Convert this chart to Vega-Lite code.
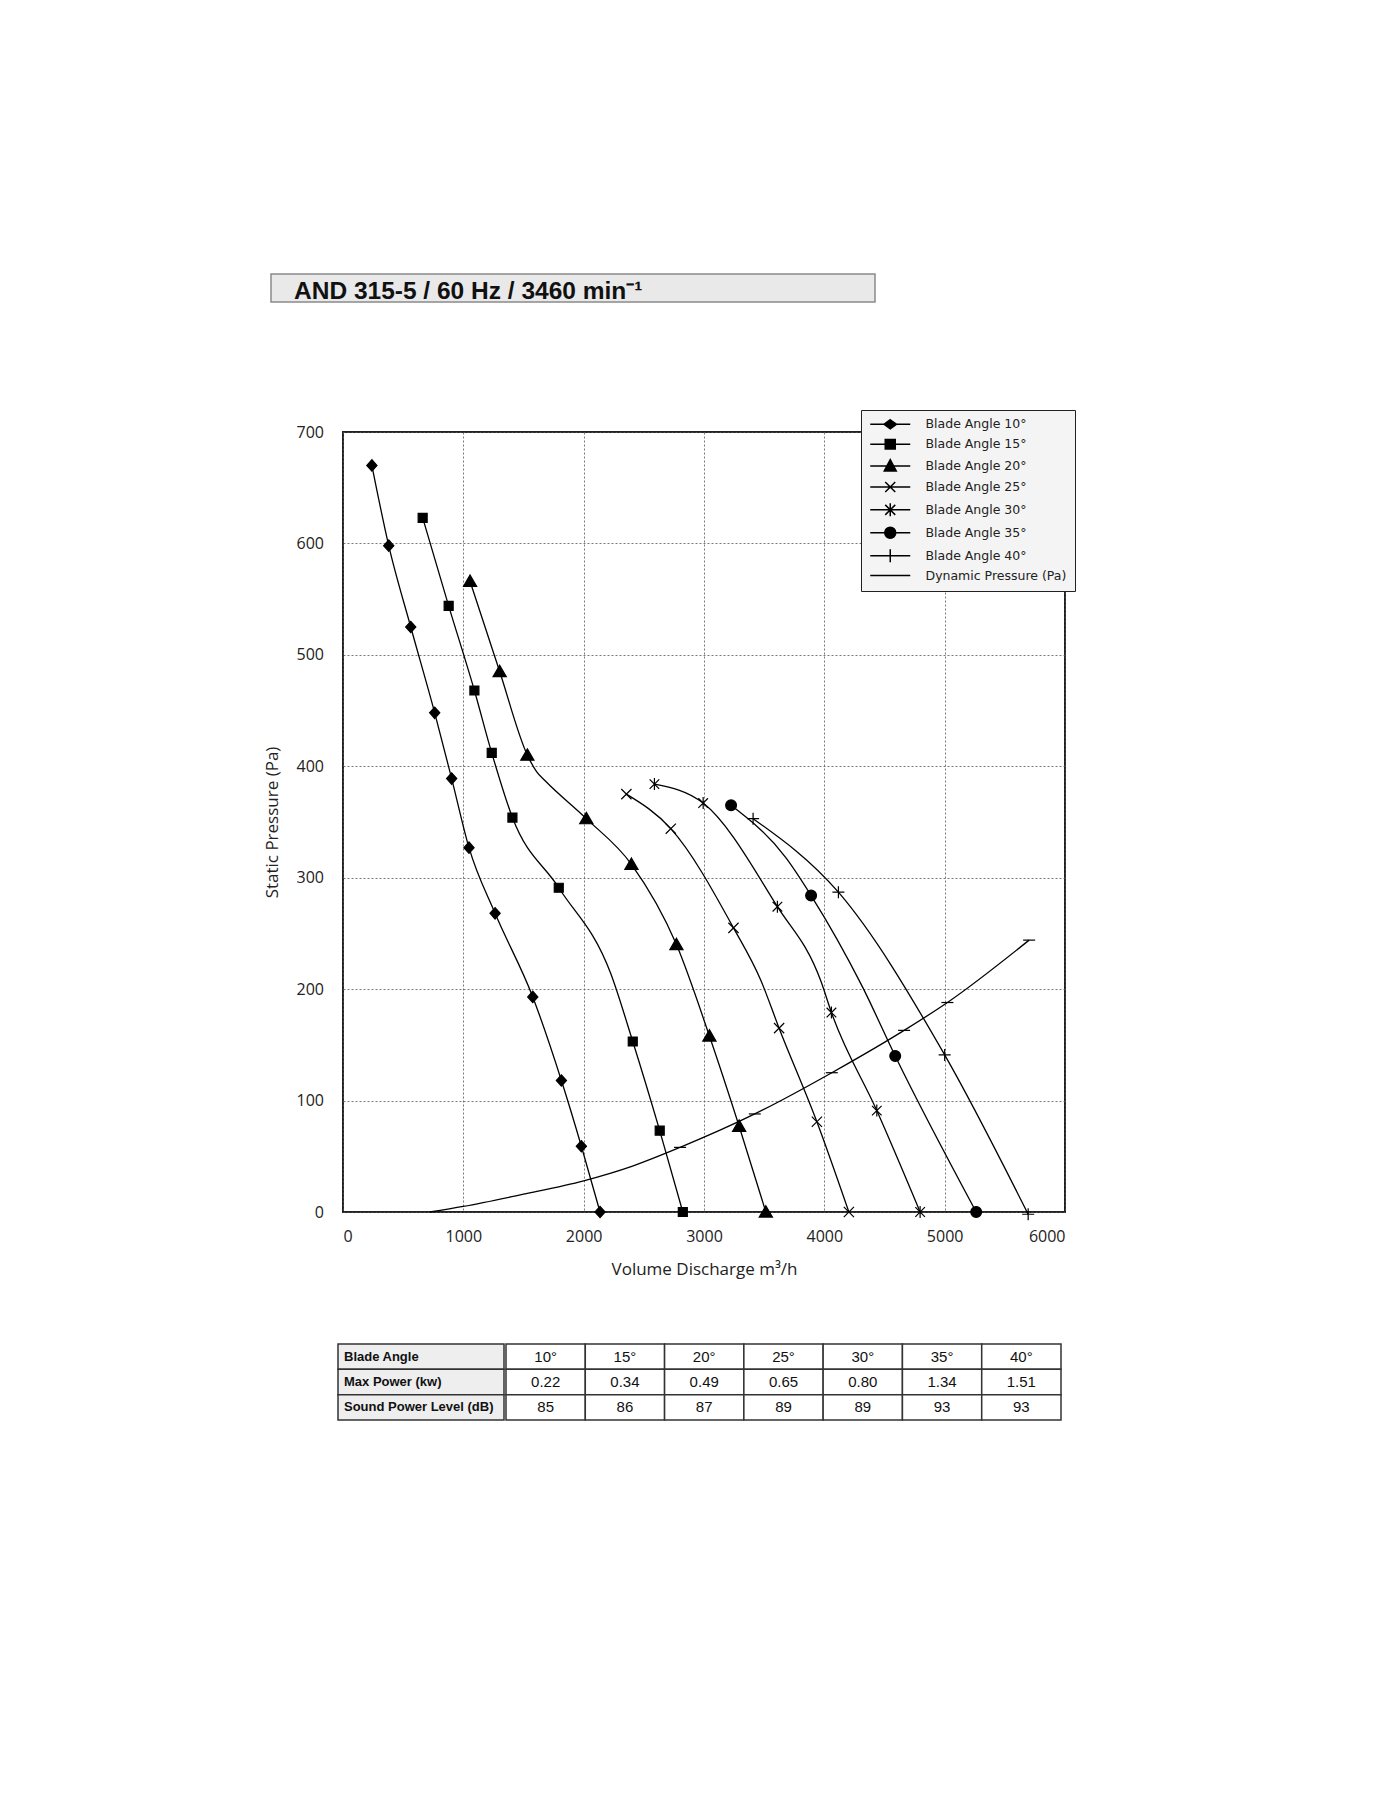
{
  "$schema": "https://vega.github.io/schema/vega-lite/v6.json",
  "background": "white",
  "padding": {"top": 273, "left": 261, "right": 0, "bottom": 0},
  "config": {
    "view": {"stroke": null},
    "font": "Open Sans",
    "axis": {
      "domain": false,
      "ticks": false,
      "grid": true,
      "gridColor": "#555",
      "gridDash": [2, 2],
      "gridWidth": 0.8,
      "labelFont": "Open Sans",
      "labelFontSize": 16,
      "labelColor": "#222",
      "titleFont": "Open Sans",
      "titleFontSize": 17,
      "titleFontWeight": "normal",
      "titleColor": "#222"
    }
  },
  "datasets": {
    "curves": [
      {"s": "Blade Angle 10°", "q": 240, "p": 670, "m": 1},
      {"s": "Blade Angle 10°", "q": 380, "p": 598, "m": 1},
      {"s": "Blade Angle 10°", "q": 563, "p": 525, "m": 1},
      {"s": "Blade Angle 10°", "q": 762, "p": 448, "m": 1},
      {"s": "Blade Angle 10°", "q": 903, "p": 389, "m": 1},
      {"s": "Blade Angle 10°", "q": 1047, "p": 327, "m": 1},
      {"s": "Blade Angle 10°", "q": 1264, "p": 268, "m": 1},
      {"s": "Blade Angle 10°", "q": 1577, "p": 193, "m": 1},
      {"s": "Blade Angle 10°", "q": 1815, "p": 118, "m": 1},
      {"s": "Blade Angle 10°", "q": 1981, "p": 59, "m": 1},
      {"s": "Blade Angle 10°", "q": 2136, "p": 0, "m": 1},
      {"s": "Blade Angle 15°", "q": 662, "p": 623, "m": 1},
      {"s": "Blade Angle 15°", "q": 878, "p": 544, "m": 1},
      {"s": "Blade Angle 15°", "q": 1092, "p": 468, "m": 1},
      {"s": "Blade Angle 15°", "q": 1236, "p": 412, "m": 1},
      {"s": "Blade Angle 15°", "q": 1408, "p": 354, "m": 1},
      {"s": "Blade Angle 15°", "q": 1793, "p": 291, "m": 1},
      {"s": "Blade Angle 15°", "q": 2225, "p": 214, "m": 0},
      {"s": "Blade Angle 15°", "q": 2408, "p": 153, "m": 1},
      {"s": "Blade Angle 15°", "q": 2632, "p": 73, "m": 1},
      {"s": "Blade Angle 15°", "q": 2824, "p": 0, "m": 1},
      {"s": "Blade Angle 20°", "q": 1056, "p": 566, "m": 1},
      {"s": "Blade Angle 20°", "q": 1302, "p": 485, "m": 1},
      {"s": "Blade Angle 20°", "q": 1532, "p": 410, "m": 1},
      {"s": "Blade Angle 20°", "q": 1610, "p": 395, "m": 0},
      {"s": "Blade Angle 20°", "q": 1680, "p": 387, "m": 0},
      {"s": "Blade Angle 20°", "q": 2022, "p": 353, "m": 1},
      {"s": "Blade Angle 20°", "q": 2397, "p": 312, "m": 1},
      {"s": "Blade Angle 20°", "q": 2771, "p": 240, "m": 1},
      {"s": "Blade Angle 20°", "q": 3045, "p": 158, "m": 1},
      {"s": "Blade Angle 20°", "q": 3292, "p": 77, "m": 1},
      {"s": "Blade Angle 20°", "q": 3514, "p": 0, "m": 1},
      {"s": "Blade Angle 25°", "q": 2355, "p": 375, "m": 1},
      {"s": "Blade Angle 25°", "q": 2724, "p": 344, "m": 1},
      {"s": "Blade Angle 25°", "q": 3245, "p": 255, "m": 1},
      {"s": "Blade Angle 25°", "q": 3472, "p": 208, "m": 0},
      {"s": "Blade Angle 25°", "q": 3624, "p": 165, "m": 1},
      {"s": "Blade Angle 25°", "q": 3938, "p": 81, "m": 1},
      {"s": "Blade Angle 25°", "q": 4204, "p": 0, "m": 1},
      {"s": "Blade Angle 30°", "q": 2588, "p": 384, "m": 1},
      {"s": "Blade Angle 30°", "q": 2993, "p": 367, "m": 1},
      {"s": "Blade Angle 30°", "q": 3610, "p": 274, "m": 1},
      {"s": "Blade Angle 30°", "q": 3972, "p": 207, "m": 0},
      {"s": "Blade Angle 30°", "q": 4059, "p": 179, "m": 1},
      {"s": "Blade Angle 30°", "q": 4436, "p": 91, "m": 1},
      {"s": "Blade Angle 30°", "q": 4796, "p": 0, "m": 1},
      {"s": "Blade Angle 35°", "q": 3225, "p": 365, "m": 1},
      {"s": "Blade Angle 35°", "q": 3680, "p": 318, "m": 0},
      {"s": "Blade Angle 35°", "q": 3890, "p": 284, "m": 1},
      {"s": "Blade Angle 35°", "q": 4317, "p": 202, "m": 0},
      {"s": "Blade Angle 35°", "q": 4589, "p": 140, "m": 1},
      {"s": "Blade Angle 35°", "q": 5262, "p": 0, "m": 1},
      {"s": "Blade Angle 40°", "q": 3408, "p": 353, "m": 1},
      {"s": "Blade Angle 40°", "q": 4117, "p": 287, "m": 1},
      {"s": "Blade Angle 40°", "q": 5000, "p": 141, "m": 1},
      {"s": "Blade Angle 40°", "q": 5694, "p": -2, "m": 1},
      {"s": "Dynamic Pressure (Pa)", "q": 721, "p": 0, "m": 0},
      {"s": "Dynamic Pressure (Pa)", "q": 1000, "p": 5, "m": 0},
      {"s": "Dynamic Pressure (Pa)", "q": 1500, "p": 16, "m": 0},
      {"s": "Dynamic Pressure (Pa)", "q": 2000, "p": 28, "m": 0},
      {"s": "Dynamic Pressure (Pa)", "q": 2400, "p": 41, "m": 0},
      {"s": "Dynamic Pressure (Pa)", "q": 2801, "p": 58, "m": 1},
      {"s": "Dynamic Pressure (Pa)", "q": 3422, "p": 88, "m": 1},
      {"s": "Dynamic Pressure (Pa)", "q": 4062, "p": 125, "m": 1},
      {"s": "Dynamic Pressure (Pa)", "q": 4663, "p": 163, "m": 1},
      {"s": "Dynamic Pressure (Pa)", "q": 5023, "p": 188, "m": 1},
      {"s": "Dynamic Pressure (Pa)", "q": 5702, "p": 244, "m": 1}
    ],
    "heads": [
      {"c": "h", "r": 1, "t": "Blade Angle"},
      {"c": "h", "r": 2, "t": "Max Power (kw)"},
      {"c": "h", "r": 3, "t": "Sound Power Level (dB)"}
    ],
    "cells": [
      {"c": 1, "r": 1, "t": "10°"}, {"c": 2, "r": 1, "t": "15°"}, {"c": 3, "r": 1, "t": "20°"},
      {"c": 4, "r": 1, "t": "25°"}, {"c": 5, "r": 1, "t": "30°"}, {"c": 6, "r": 1, "t": "35°"},
      {"c": 7, "r": 1, "t": "40°"},
      {"c": 1, "r": 2, "t": "0.22"}, {"c": 2, "r": 2, "t": "0.34"}, {"c": 3, "r": 2, "t": "0.49"},
      {"c": 4, "r": 2, "t": "0.65"}, {"c": 5, "r": 2, "t": "0.80"}, {"c": 6, "r": 2, "t": "1.34"},
      {"c": 7, "r": 2, "t": "1.51"},
      {"c": 1, "r": 3, "t": "85"}, {"c": 2, "r": 3, "t": "86"}, {"c": 3, "r": 3, "t": "87"},
      {"c": 4, "r": 3, "t": "89"}, {"c": 5, "r": 3, "t": "89"}, {"c": 6, "r": 3, "t": "93"},
      {"c": 7, "r": 3, "t": "93"}
    ]
  },
  "vconcat": [
    {
      "vconcat": [
        {
          "hconcat": [
            {
              "width": 9,
              "height": 28,
              "data": {"values": []},
              "mark": "rect",
              "encoding": {}
            },
            {
              "width": 604,
              "height": 28,
              "view": {"fill": "#e9e9e9", "stroke": "#8a8a8a", "strokeWidth": 1.5},
              "data": {"values": [{"t": "AND 315-5 / 60 Hz / 3460 min⁻¹"}]},
              "mark": {
                "type": "text",
                "align": "left",
                "baseline": "alphabetic",
                "font": "Liberation Sans",
                "fontWeight": "bold",
                "fontSize": 24.5,
                "color": "#111",
                "x": 23,
                "y": 25
              },
              "encoding": {"text": {"field": "t"}}
            }
          ],
          "spacing": 0
        },
        {
          "hconcat": [
            {
              "width": 1,
              "height": 780,
              "data": {"values": []},
              "mark": "rect",
              "encoding": {}
            },
            {
              "width": 722,
              "height": 780,
              "view": {"stroke": "#222", "strokeWidth": 2},
              "data": {"name": "curves"},
              "encoding": {
                "x": {
                  "field": "q",
                  "type": "quantitative",
                  "scale": {"domain": [0, 6000], "nice": false},
                  "axis": {"values": [0, 1000, 2000, 3000, 4000, 5000, 6000], "format": "d", "labelPadding": 16, "titlePadding": 17},
                  "title": "Volume Discharge m³/h"
                },
                "y": {
                  "field": "p",
                  "type": "quantitative",
                  "scale": {"domain": [0, 700], "nice": false},
                  "axis": {"values": [0, 100, 200, 300, 400, 500, 600, 700], "format": "d", "labelPadding": 19.5, "titlePadding": 14.5},
                  "title": "Static Pressure (Pa)"
                }
              },
              "layer": [
                {
                  "mark": {"type": "line", "interpolate": "monotone", "color": "black", "strokeWidth": 1.3},
                  "encoding": {"detail": {"field": "s"}}
                },
                {
                  "transform": [{"filter": "datum.m == 1"}],
                  "mark": {"type": "point", "filled": true, "fill": "black", "stroke": "black", "strokeWidth": 1.2, "size": 144, "opacity": 1},
                  "encoding": {
                    "shape": {
                      "field": "s",
                      "type": "nominal",
                      "legend": null,
                      "scale": {
                        "domain": ["Blade Angle 10°", "Blade Angle 15°", "Blade Angle 20°", "Blade Angle 25°", "Blade Angle 30°", "Blade Angle 35°", "Blade Angle 40°", "Dynamic Pressure (Pa)"],
                        "range": [
                          "M0,-0.95L0.85,0L0,0.95L-0.85,0Z",
                          "M-0.75,-0.75L0.75,-0.75L0.75,0.75L-0.75,0.75Z",
                          "M0,-1.05L1.1,0.85L-1.1,0.85Z",
                          "M-0.85,-0.85L0.85,0.85M-0.85,0.85L0.85,-0.85",
                          "M0,-1L0,1M-0.8,-0.8L0.8,0.8M-0.8,0.8L0.8,-0.8",
                          "M0.9,0A0.9,0.9,0,1,1,-0.9,0A0.9,0.9,0,1,1,0.9,0Z",
                          "M-1,0L1,0M0,-1L0,1",
                          "M-1,0L1,0"
                        ]
                      }
                    }
                  }
                },
                {
                  "transform": [{"filter": "false"}],
                  "mark": {"type": "point", "filled": false, "fill": "black", "stroke": "black", "strokeWidth": 1.5, "opacity": 1},
                  "encoding": {
                    "shape": {
                      "field": "s",
                      "type": "nominal",
                      "scale": {
                        "domain": ["Blade Angle 10°", "Blade Angle 15°", "Blade Angle 20°", "Blade Angle 25°", "Blade Angle 30°", "Blade Angle 35°", "Blade Angle 40°", "Dynamic Pressure (Pa)"],
                        "range": [
                          "M-4,0L4,0M0,-0.9L1.25,0L0,0.9L-1.25,0Z",
                          "M-4,0L4,0M-1,-0.95L1,-0.95L1,0.95L-1,0.95Z",
                          "M-4,0L4,0M0,-1.3L1.2,1L-1.2,1Z",
                          "M-4,0L4,0M-1,-1L1,1M-1,1L1,-1",
                          "M-4,0L4,0M0,-1.3L0,1.3M-1,-1L1,1M-1,1L1,-1",
                          "M-4,0L4,0M1.1,0A1.1,1.1,0,1,1,-1.1,0A1.1,1.1,0,1,1,1.1,0Z",
                          "M-4,0L4,0M0,-1.3L0,1.3",
                          "M-4,0L4,0"
                        ]
                      },
                      "legend": {
                        "title": null,
                        "orient": "none",
                        "legendX": 518,
                        "legendY": -22,
                        "symbolSize": 100,
                        "symbolOffset": 15,
                        "symbolStrokeWidth": 1.5,
                        "labelFont": "DejaVu Sans",
                        "labelFontSize": 12.5,
                        "labelColor": "#222",
                        "labelOffset": 29,
                        "rowPadding": 3.9,
                        "padding": 8,
                        "fillColor": "#f4f4f4",
                        "strokeColor": "#222",
                        "encode": {
                          "legend": {"strokeWidth": {"value": 1.5}},
                          "symbols": {"fill": {"value": "black"}, "stroke": {"value": "black"}, "strokeWidth": {"value": 1.5}, "opacity": {"value": 1}}
                        }
                      }
                    }
                  }
                }
              ],
              "resolve": {"scale": {"shape": "independent"}}
            }
          ],
          "spacing": 0
        }
      ],
      "spacing": 103
    },
    {
      "hconcat": [
        {
          "width": 76,
          "height": 76,
          "data": {"values": []},
          "mark": "rect",
          "encoding": {}
        },
        {
          "width": 166,
          "height": 76,
          "data": {"name": "heads"},
          "encoding": {
            "y": {"field": "r", "type": "ordinal", "axis": null, "scale": {"paddingInner": 0, "paddingOuter": 0}}
          },
          "layer": [
            {
              "mark": {"type": "rect", "fill": "#eeeeee", "stroke": "#333", "strokeWidth": 1.5},
              "encoding": {"x": {"field": "c", "type": "nominal", "axis": null, "scale": {"paddingInner": 0, "paddingOuter": 0}}}
            },
            {
              "mark": {"type": "text", "align": "left", "x": 6, "font": "Liberation Sans", "fontWeight": "bold", "fontSize": 13, "color": "#111"},
              "encoding": {"text": {"field": "t"}}
            }
          ]
        },
        {
          "width": 555,
          "height": 76,
          "data": {"name": "cells"},
          "encoding": {
            "x": {"field": "c", "type": "ordinal", "axis": null, "scale": {"paddingInner": 0, "paddingOuter": 0}},
            "y": {"field": "r", "type": "ordinal", "axis": null, "scale": {"paddingInner": 0, "paddingOuter": 0}}
          },
          "layer": [
            {"mark": {"type": "rect", "fill": "white", "stroke": "#333", "strokeWidth": 1.5}},
            {
              "mark": {"type": "text", "font": "Liberation Sans", "fontSize": 15, "color": "#111"},
              "encoding": {"text": {"field": "t"}}
            }
          ]
        }
      ],
      "spacing": 0
    }
  ],
  "spacing": 65
}
